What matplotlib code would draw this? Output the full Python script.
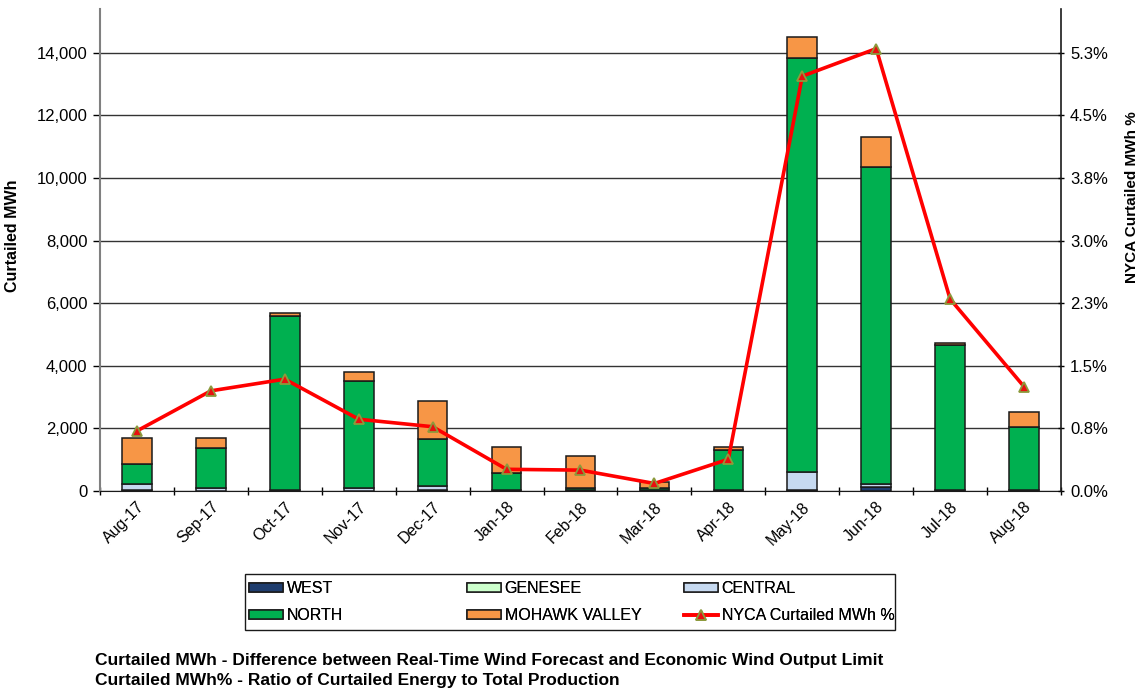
import matplotlib
matplotlib.use("Agg")
import matplotlib.pyplot as plt
from matplotlib.ticker import FuncFormatter, FixedLocator
from matplotlib.patches import Rectangle
import numpy as np

plt.rcParams['font.family'] = ['Liberation Sans', 'DejaVu Sans']

months = ["Aug-17", "Sep-17", "Oct-17", "Nov-17", "Dec-17", "Jan-18", "Feb-18",
          "Mar-18", "Apr-18", "May-18", "Jun-18", "Jul-18", "Aug-18"]
west = [30, 10, 30, 10, 30, 30, 10, 10, 10, 20, 130, 30, 20]
genesee = [0, 0, 0, 0, 0, 0, 0, 0, 0, 0, 0, 0, 0]
central = [180, 80, 10, 90, 140, 10, 10, 10, 10, 580, 90, 10, 10]
north = [660, 1280, 5540, 3430, 1500, 520, 90, 70, 1290, 13250, 10140, 4610, 2000]
mohawk = [830, 330, 120, 270, 1210, 840, 1000, 210, 100, 640, 960, 70, 490]
nyca_pct = [0.72, 1.20, 1.34, 0.86, 0.77, 0.26, 0.25, 0.09, 0.38, 4.97, 5.30, 2.30, 1.25]

right_ticks = [0, 0.75, 1.5, 2.25, 3.0, 3.75, 4.5, 5.25]
right_labels = ["0.0%", "0.8%", "1.5%", "2.3%", "3.0%", "3.8%", "4.5%", "5.3%"]
left_ticks = [0, 2000, 4000, 6000, 8000, 10000, 12000, 14000]

colors = {"WEST": "#1F3D6E", "GENESEE": "#CCFFCC", "CENTRAL": "#C6D9F0",
          "NORTH": "#00B050", "MOHAWK VALLEY": "#F79646"}

W, H = 1140, 692
FS = 11.5
fig = plt.figure(figsize=(W / 100, H / 100), dpi=100)
ax = fig.add_axes([100 / W, 1 - 491 / H, (1061 - 100) / W, (491 - 9) / H])
AW = 1061 - 100

x = np.arange(len(months))
bw = 0.4
bottom = np.zeros(len(months))
handles = {}
for name, vals in [("WEST", west), ("GENESEE", genesee), ("CENTRAL", central),
                   ("NORTH", north), ("MOHAWK VALLEY", mohawk)]:
    b = ax.bar(x, vals, bw, bottom=bottom, color=colors[name], edgecolor="#1a1a1a",
               linewidth=1.1, label=name, zorder=3)
    bottom += np.array(vals)
    handles[name] = b

ymax = 15400
ax.set_ylim(0, ymax)
ax.set_xlim(-0.5, len(months) - 0.5)
ax.yaxis.set_major_locator(FixedLocator(left_ticks))
ax.yaxis.set_major_formatter(FuncFormatter(lambda v, p: f"{int(v):,}"))
ax.grid(axis="y", color="#333333", linewidth=1.0, zorder=0)
ax.set_axisbelow(True)
ax.set_xticks(x)
ax.set_xticklabels(months, rotation=45, ha="right", rotation_mode="anchor", fontsize=FS)
ax.set_xticks(np.arange(-0.5, len(months), 1.0), minor=True)
ax.tick_params(axis="x", which="major", length=0, pad=6)
ax.tick_params(axis="x", which="minor", length=6, direction="inout", width=1)
ax.tick_params(axis="y", labelsize=FS + 0.5, length=5, direction="out", width=1, pad=4)
ax.set_ylabel("Curtailed MWh", fontsize=FS, fontweight="bold")
ax.yaxis.set_label_coords(-80 / AW, 0.53)
ax.spines["top"].set_visible(False)
ax.spines["left"].set_color("#808080")
ax.spines["left"].set_linewidth(1.5)
ax.spines["bottom"].set_color("#1a1a1a")
ax.spines["right"].set_visible(False)

ax2 = ax.twinx()
ax2.set_ylim(0, ymax * 5.25 / 14000)
line, = ax2.plot(x, nyca_pct, color="#FF0000", linewidth=2.6, marker="^", markersize=7,
                 markerfacecolor="#E81010", markeredgecolor="#8C9A3C", markeredgewidth=1.3,
                 label="NYCA Curtailed MWh %", zorder=5)
ax2.set_yticks(right_ticks)
ax2.set_yticklabels(right_labels)
ax2.tick_params(axis="y", labelsize=FS + 0.5, length=5, direction="inout", width=1, pad=4)
ax2.spines["top"].set_visible(False)
ax2.spines["left"].set_visible(False)
ax2.spines["bottom"].set_visible(False)
ax2.spines["right"].set_color("#1a1a1a")
ax2.spines["right"].set_linewidth(1.2)
ax2.set_ylabel("NYCA Curtailed MWh %", fontsize=FS - 0.5, fontweight="bold", rotation=90)
ax2.yaxis.set_label_coords(1 + 64 / AW, 0.61)

# legend: frame + three aligned columns
fig.patches.append(Rectangle((245 / W, 1 - 630 / H), (895 - 245) / W, (630 - 574) / H,
                             transform=fig.transFigure, fill=False, edgecolor="#1a1a1a",
                             linewidth=1.0))
cols = [(249, [handles["WEST"], handles["NORTH"]], ["WEST", "NORTH"]),
        (467, [handles["GENESEE"], handles["MOHAWK VALLEY"]], ["GENESEE", "MOHAWK VALLEY"]),
        (684, [handles["CENTRAL"], line], ["CENTRAL", "NYCA Curtailed MWh %"])]
for cx, hs, ls in cols:
    lg = fig.legend(hs, ls, ncol=1, loc="upper left",
                    bbox_to_anchor=(cx / W, 1 - 581 / H), frameon=False, fontsize=FS,
                    handlelength=2.15, handleheight=0.5, handletextpad=0.2,
                    borderpad=0.0, labelspacing=0.75, borderaxespad=0)
    fig.add_artist(lg)

fnfam = ['Liberation Sans Narrow', 'Liberation Sans', 'DejaVu Sans']
fig.text(95 / W, 1 - 661 / H, "Curtailed MWh - Difference between Real-Time Wind Forecast and Economic Wind Output Limit",
         fontsize=12.5, fontweight="bold", family=fnfam, va="center")
fig.text(95 / W, 1 - 680 / H, "Curtailed MWh% - Ratio of Curtailed Energy to Total Production",
         fontsize=12.5, fontweight="bold", family=fnfam, va="center")

fig.savefig("out.png", dpi=100)
